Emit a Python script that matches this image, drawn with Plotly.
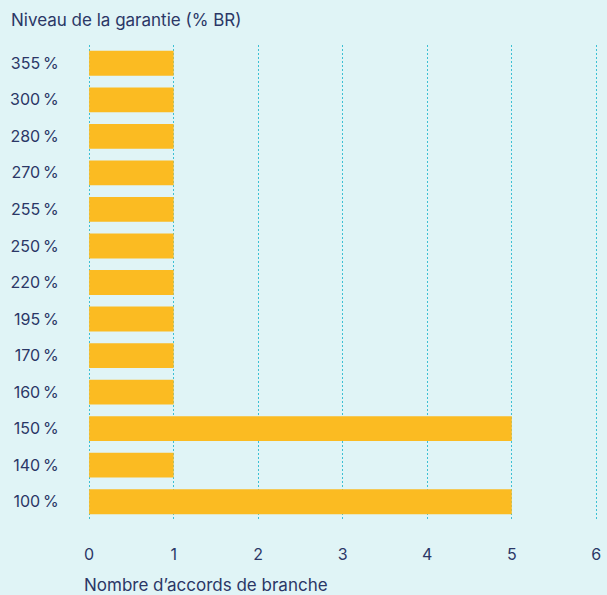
import plotly.graph_objects as go

categories = ["100\u202f%", "140\u202f%", "150\u202f%", "160\u202f%", "170\u202f%", "195\u202f%",
              "220\u202f%", "250\u202f%", "255\u202f%", "270\u202f%", "280\u202f%", "300\u202f%", "355\u202f%"]
values = [5, 1, 5, 1, 1, 1, 1, 1, 1, 1, 1, 1, 1]
x_ticks = [0, 1, 2, 3, 4, 5, 6]

navy = "#2b3766"
fig = go.Figure(go.Bar(
    y=categories, x=values, orientation="h",
    marker=dict(color="#fbbb22", line=dict(width=0)),
    hoverinfo="x+y",
))
fig.update_layout(
    width=607, height=595,
    paper_bgcolor="#e0f4f6", plot_bgcolor="#e0f4f6",
    margin=dict(l=87, r=6, t=45, b=75),
    bargap=0.32,
    font=dict(family="Inter, Roboto, sans-serif", color=navy, size=16),
    showlegend=False,
    xaxis=dict(range=[-0.025, 6.02], tickvals=x_ticks, showgrid=True, gridcolor="#3cc0d4",
               griddash="2px,2px", gridwidth=1, zeroline=False, showline=False,
               ticks="outside", ticklen=20, tickcolor="rgba(0,0,0,0)",
               tickfont=dict(size=16, color=navy)),
    yaxis=dict(type="category", categoryorder="array", categoryarray=categories,
               showgrid=False, zeroline=False, showline=False,
               ticks="outside", ticklen=24, tickcolor="rgba(0,0,0,0)",
               tickfont=dict(size=16, color=navy)),
    annotations=[
        dict(text="Niveau de la garantie (% BR)", xref="paper", yref="paper",
             x=-78/514, y=1 + 25/475, xanchor="left", yanchor="middle",
             showarrow=False, font=dict(size=17, color=navy)),
        dict(text="Nombre d\u2019accords de branche", xref="paper", yref="paper",
             x=-5/514, y=-65/475, xanchor="left", yanchor="middle",
             showarrow=False, font=dict(size=17, color=navy)),
    ],
)
fig.write_html("out.html", config={"displayModeBar": False},
               post_script="document.body.style.margin='0';")
